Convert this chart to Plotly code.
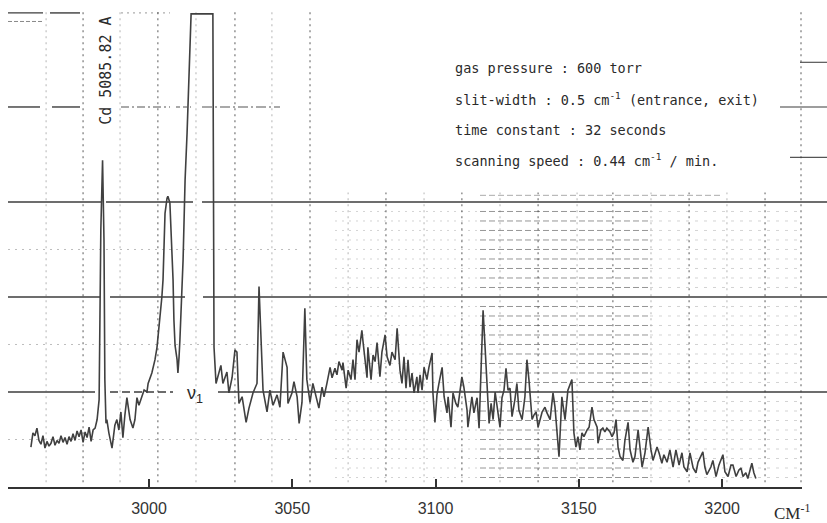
import plotly.graph_objects as go

# ---- data ----
wavenumber = [
    2958.8, 2959.5, 2960.2, 2960.9, 2961.6, 2962.3, 2963.0, 2963.7, 2964.4, 2965.1,
    2965.8, 2966.5, 2967.2, 2967.9, 2968.6, 2969.3, 2970.0, 2970.7, 2971.4, 2972.1,
    2972.8, 2973.5, 2974.2, 2974.9, 2975.6, 2976.3, 2977.0, 2977.7, 2978.4, 2979.1,
    2979.8, 2980.5, 2981.2, 2981.9, 2982.6, 2983.2, 2983.8, 2984.3, 2984.6, 2985.0,
    2985.3, 2986.0, 2987.1, 2988.1, 2988.8, 2989.5, 2990.2, 2990.9, 2991.6, 2992.3,
    2993.4, 2994.4, 2995.1, 2995.8, 2996.5, 2997.6, 2998.3, 2999.3, 2999.7, 3001.0,
    3002.1, 3002.8, 3003.8, 3004.5, 3004.9, 3005.6, 3006.3, 3006.6, 3007.3, 3008.0,
    3008.4, 3008.7, 3009.1, 3009.8, 3010.1, 3010.5, 3010.8, 3011.9, 3012.6, 3013.3,
    3014.7, 3022.3, 3022.5, 3022.7, 3023.4, 3025.1, 3025.8, 3027.2, 3027.9, 3029.0,
    3030.0, 3030.7, 3031.4, 3032.5, 3033.9, 3034.9, 3036.3, 3037.7, 3038.4, 3039.1,
    3039.8, 3041.2, 3042.2, 3043.3, 3044.7, 3045.7, 3046.8, 3048.2, 3048.5, 3049.9,
    3050.6, 3051.7, 3052.4, 3053.4, 3054.4, 3055.1, 3056.2, 3057.2, 3058.3, 3059.3,
    3060.4, 3061.1, 3062.1, 3063.2, 3063.9, 3064.9, 3065.6, 3066.3, 3067.4, 3067.7,
    3068.8, 3069.5, 3070.5, 3071.2, 3071.9, 3072.6, 3073.3, 3074.3, 3074.7, 3075.4,
    3076.1, 3076.4, 3077.5, 3078.2, 3078.9, 3079.6, 3080.6, 3081.3, 3082.4, 3083.1,
    3084.1, 3084.8, 3085.9, 3086.6, 3087.6, 3088.3, 3089.0, 3089.7, 3090.4, 3091.1,
    3091.8, 3092.5, 3093.5, 3093.9, 3094.6, 3095.3, 3096.0, 3097.0, 3097.7, 3098.8,
    3099.1, 3099.8, 3100.5, 3101.2, 3102.3, 3103.0, 3104.0, 3104.4, 3105.4, 3106.1,
    3107.1, 3107.8, 3109.2, 3109.9, 3111.0, 3111.3, 3112.7, 3113.4, 3114.5, 3115.2,
    3116.2, 3116.6, 3117.3, 3118.0, 3118.7, 3119.4, 3120.1, 3120.8, 3121.5, 3122.5,
    3123.2, 3123.9, 3124.6, 3125.3, 3126.0, 3126.7, 3127.7, 3128.4, 3129.1, 3130.2,
    3131.2, 3131.9, 3132.6, 3133.7, 3134.4, 3135.1, 3135.8, 3137.2, 3138.2, 3138.9,
    3140.0, 3141.0, 3141.7, 3142.4, 3143.1, 3144.1, 3145.2, 3146.2, 3147.6, 3148.3,
    3149.0, 3149.7, 3150.4, 3151.1, 3151.8, 3152.9, 3153.6, 3154.6, 3155.3, 3156.4,
    3156.7, 3157.7, 3158.4, 3159.1, 3159.8, 3160.9, 3161.6, 3162.3, 3163.0, 3163.7,
    3164.4, 3165.4, 3166.1, 3167.2, 3167.9, 3168.9, 3169.6, 3170.7, 3171.4, 3172.1,
    3173.1, 3174.2, 3175.2, 3175.9, 3177.3, 3178.0, 3179.0, 3179.7, 3180.8, 3181.8,
    3182.9, 3183.9, 3185.0, 3186.0, 3186.7, 3187.8, 3188.8, 3189.9, 3190.9, 3191.6,
    3193.3, 3194.0, 3194.7, 3196.1, 3196.8, 3197.9, 3198.9, 3200.3, 3201.0, 3202.1,
    3203.1, 3203.8, 3204.9, 3205.9, 3206.6, 3207.3, 3208.3, 3209.0, 3210.4, 3211.1,
    3211.8,
]
intensity = [
    0.42, 0.57, 0.54, 0.62, 0.49, 0.45, 0.54, 0.41, 0.48, 0.43,
    0.46, 0.53, 0.44, 0.49, 0.46, 0.54, 0.47, 0.52, 0.45, 0.53,
    0.48, 0.56, 0.49, 0.59, 0.53, 0.60, 0.47, 0.58, 0.52, 0.63,
    0.48, 0.60, 0.62, 0.71, 0.92, 2.71, 3.44, 2.60, 1.13, 0.67,
    0.71, 0.57, 0.41, 0.65, 0.71, 0.60, 0.79, 0.52, 0.76, 0.94,
    0.71, 0.62, 0.71, 0.94, 0.86, 0.97, 1.02, 1.00, 1.09, 1.20,
    1.34, 1.47, 1.76, 2.00, 2.18, 2.88, 3.04, 3.06, 2.99, 2.53,
    2.18, 1.76, 1.49, 1.34, 1.20, 1.37, 1.55, 2.39, 3.23, 3.73,
    4.98, 4.98, 3.02, 1.47, 1.09, 1.28, 1.09, 1.21, 0.99, 1.15,
    1.44, 1.42, 0.88, 0.95, 0.68, 0.83, 0.99, 1.09, 2.11, 1.65,
    1.02, 0.79, 1.02, 0.86, 0.97, 0.84, 1.42, 1.26, 0.88, 0.99,
    1.11, 0.95, 0.67, 0.89, 1.88, 1.13, 0.89, 1.09, 0.95, 0.83,
    1.05, 0.95, 1.09, 1.26, 1.15, 1.25, 1.18, 1.32, 1.23, 1.31,
    1.04, 1.23, 1.13, 1.34, 1.13, 1.55, 1.42, 1.65, 1.53, 1.34,
    1.15, 1.47, 1.13, 1.39, 1.32, 1.52, 1.16, 1.42, 1.60, 1.37,
    1.28, 1.42, 1.34, 1.67, 1.23, 1.09, 1.37, 1.04, 1.34, 1.05,
    1.20, 0.99, 1.16, 0.99, 1.18, 1.02, 1.26, 1.13, 1.26, 1.41,
    0.99, 0.68, 0.97, 1.09, 1.26, 0.95, 0.78, 0.95, 0.63, 0.99,
    0.88, 0.84, 1.16, 1.05, 0.81, 0.63, 0.95, 0.78, 0.94, 0.62,
    1.55, 1.86, 1.47, 1.05, 0.67, 0.88, 0.71, 1.00, 0.86, 0.63,
    0.94, 1.02, 1.25, 1.02, 1.04, 0.74, 0.92, 1.09, 0.81, 0.71,
    0.95, 1.34, 1.13, 0.71, 0.76, 0.79, 0.63, 0.79, 0.84, 0.78,
    0.71, 0.99, 0.84, 0.55, 0.32, 0.95, 0.71, 1.02, 1.13, 0.57,
    0.42, 0.53, 0.39, 0.57, 0.53, 0.60, 0.63, 0.84, 0.71, 0.63,
    0.46, 0.60, 0.62, 0.58, 0.62, 0.58, 0.53, 0.57, 0.71, 0.42,
    0.32, 0.28, 0.49, 0.68, 0.39, 0.26, 0.32, 0.60, 0.39, 0.21,
    0.36, 0.63, 0.39, 0.28, 0.42, 0.36, 0.25, 0.34, 0.26, 0.39,
    0.21, 0.39, 0.23, 0.36, 0.21, 0.16, 0.36, 0.20, 0.15, 0.26,
    0.37, 0.21, 0.13, 0.21, 0.28, 0.11, 0.23, 0.34, 0.16, 0.11,
    0.23, 0.23, 0.11, 0.18, 0.20, 0.11, 0.15, 0.09, 0.25, 0.15,
    0.09,
]
tick_values = [3000, 3050, 3100, 3150, 3200]
tick_labels = ["3000", "3050", "3100", "3150", "3200"]

conditions = [
    "gas pressure : 600 torr",
    "slit-width : 0.5 cm<sup>-1</sup> (entrance, exit)",
    "time constant : 32 seconds",
    "scanning speed : 0.44 cm<sup>-1</sup> / min.",
]
calibration_label = "Cd 5085.82 A"
band_label = "ν<sub>1</sub>"
unit_label = "CM<sup>-1</sup>"

# ---- chart-paper geometry (decoration) ----
W, H = 827, 523
L, R, T, B = 8, 25, 0, 36
X0, X1 = 2950.8, 3227.9
Y0, Y1 = 0.0, 5.126


def px(p):
    """pixel x -> paper x"""
    return (p - L) / (W - L - R)


paper_verticals = [2964.1, 2977.0, 2989.9, 3003.1, 3016.4, 3030.0, 3042.9, 3056.2,
                   3069.5, 3082.7, 3096.0, 3109.2, 3122.5, 3135.8, 3149.4, 3161.9,
                   3175.2, 3188.5, 3201.7, 3215.0]

shapes = []
DARK = "#3c3c3c"

def hseg(y, p0, p1, color=DARK, width=1.5, dash="solid"):
    shapes.append(dict(type="line", xref="paper", yref="y", x0=px(p0), x1=px(p1),
                       y0=y, y1=y, line=dict(color=color, width=width, dash=dash),
                       layer="below"))

# fine ruled grid on the right part of the paper
for k in range(1, 31):
    lv = k / 10
    if k % 10 == 0:
        continue
    hseg(lv, 335, 480, "rgba(110,110,110,0.3)", 1, "2px,5px")
    hseg(lv, 480, 650, "rgba(80,80,80,0.6)", 1, "6px,3px")
    hseg(lv, 650, 800, "rgba(110,110,110,0.3)", 1, "3px,6px")
hseg(3.07, 480, 720, "rgba(90,90,90,0.5)", 1, "6px,3px")

# half-level dotted lines on the left
for lv in (0.5, 1.5, 2.5):
    hseg(lv, 8, 300, "rgba(90,90,90,0.4)", 1, "2px,5px")

# heavy rules
for lv, segs in ((3, [(8, 102, "solid"), (106, 193, "solid"), (202, 827, "solid")]),
                 (2, [(8, 100, "solid"), (110, 185, "solid"), (203, 827, "solid")]),
                 (1, [(8, 95, "solid"), (110, 173, "8px,4px"), (218, 827, "solid")])):
    for p0, p1, d in segs:
        hseg(lv, p0, p1, DARK, 1.6, d)

# partial upper rules
hseg(4.0, 8, 40, DARK, 1.4); hseg(4.0, 52, 80, DARK, 1.4)
hseg(4.0, 121, 170, "#555", 1.2, "8px,3px,2px,3px")
hseg(4.0, 176, 191, "#555", 1.2, "4px,3px")
hseg(4.0, 202, 280, "#555", 1.2, "10px,3px,2px,3px")
hseg(4.0, 780, 827, DARK, 1.2)
hseg(4.99, 8, 43, DARK, 1.4); hseg(4.99, 50, 80, DARK, 1.4)
hseg(4.90, 8, 43, "#888", 1, "4px,2px")
hseg(4.99, 121, 170, "#999", 1, "2px,4px")
hseg(4.47, 800, 827, "#555", 1.2)
hseg(3.47, 790, 827, "#555", 1.2)

# vertical dotted rules of the chart paper
for i, xv in enumerate(paper_verticals):
    top = 5.0 if xv < 3060 else 3.1
    col = "rgba(60,60,60,0.7)" if i % 2 == 1 else "rgba(100,100,100,0.4)"
    shapes.append(dict(type="line", xref="x", yref="y", x0=xv, x1=xv, y0=0.05, y1=top,
                       line=dict(color=col, width=1.2, dash="2px,4px"), layer="below"))
shapes.append(dict(type="line", xref="paper", yref="y", x0=px(801), x1=px(801), y0=0.05,
                   y1=5.0, line=dict(color="rgba(60,60,60,0.7)", width=1.2, dash="2px,4px"),
                   layer="below"))

fig = go.Figure()
fig.add_trace(go.Scatter(x=wavenumber, y=intensity, mode="lines",
                         line=dict(color="#404040", width=1.6), hoverinfo="skip",
                         showlegend=False))

annotations = []
for i, txt in enumerate(conditions):
    annotations.append(dict(x=3106.1, y=[4.41, 4.08, 3.76, 3.44][i], xref="x", yref="y",
                            text=txt, showarrow=False, xanchor="left", yanchor="middle",
                            font=dict(family="DejaVu Sans Mono", size=13.5, color="#2a2a2a")))
annotations.append(dict(x=2985.0, y=4.38, xref="x", yref="y", text=calibration_label,
                        textangle=-90, showarrow=False,
                        font=dict(family="DejaVu Sans Mono", size=15, color="#2a2a2a")))
annotations.append(dict(x=3016.1, y=0.97, xref="x", yref="y", text=band_label,
                        showarrow=False,
                        font=dict(family="Liberation Sans", size=18, color="#2a2a2a")))
annotations.append(dict(x=px(792), y=-0.052, xref="paper", yref="paper", text=unit_label,
                        showarrow=False, xanchor="center", yanchor="middle", borderpad=0,
                        font=dict(family="Liberation Serif", size=17, color="#2a2a2a")))

fig.update_layout(
    width=W, height=H,
    margin=dict(l=L, r=R, t=T, b=B),
    paper_bgcolor="white", plot_bgcolor="white",
    shapes=shapes, annotations=annotations,
    xaxis=dict(range=[X0, X1], showgrid=False, zeroline=False, showline=True,
               linecolor="#333", linewidth=2, ticks="inside", ticklen=8,
               tickwidth=1.5, tickcolor="#333", tickvals=tick_values,
               ticktext=tick_labels, ticklabelstandoff=6,
               tickfont=dict(family="Liberation Sans", size=16, color="#333")),
    yaxis=dict(range=[Y0, Y1], showgrid=False, zeroline=False, showline=False,
               showticklabels=False, ticks=""),
)

fig.write_html("out.html", config={"displayModeBar": False},
               post_script="document.body.style.margin='0';document.body.style.overflow='hidden';")
